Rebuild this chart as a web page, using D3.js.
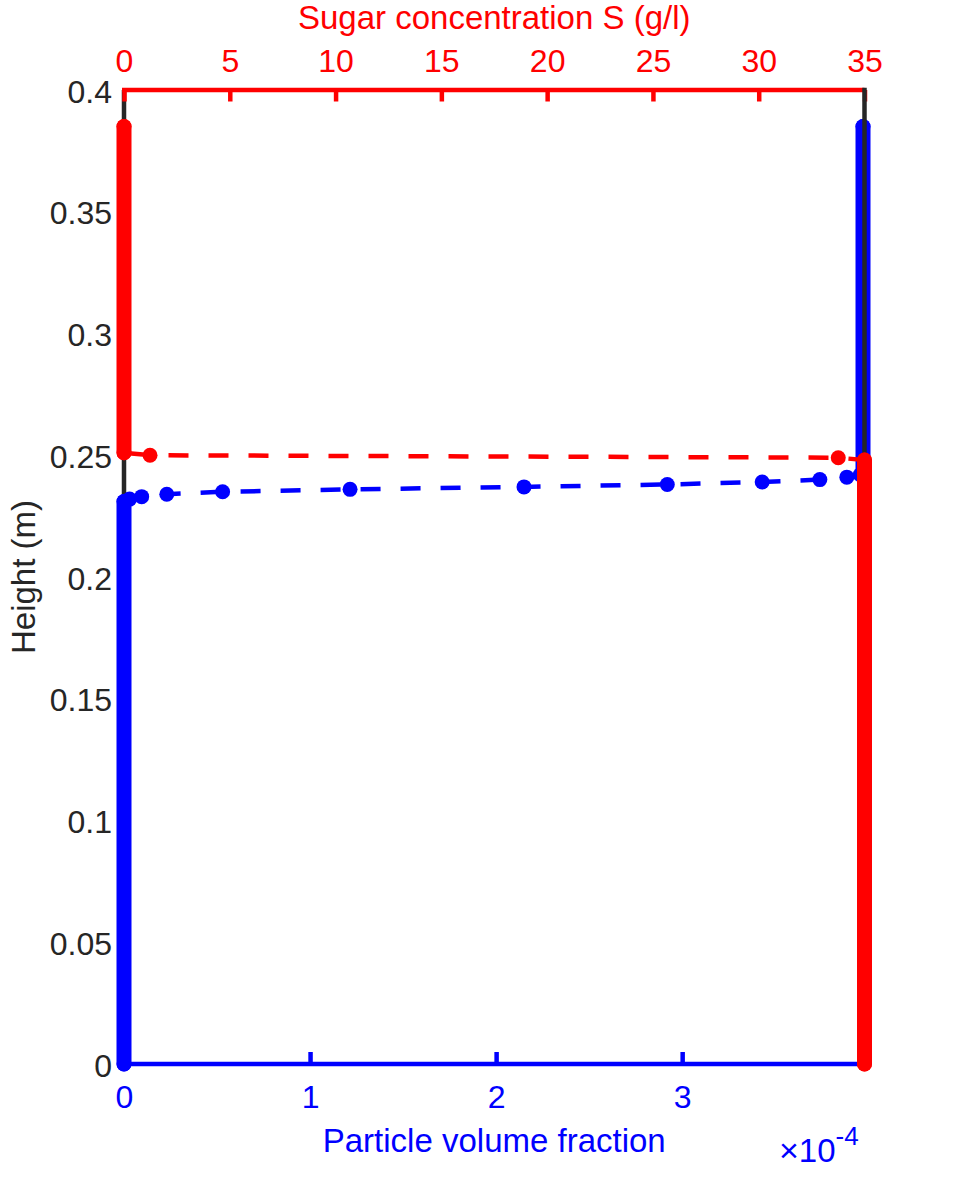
<!DOCTYPE html>
<html>
<head>
<meta charset="utf-8">
<script src="https://cdn.jsdelivr.net/npm/d3@7"></script>
<style>
  html, body { margin: 0; padding: 0; background: #fff; }
  svg { display: block; }
  text { font-family: "Liberation Sans", Arial, Helvetica, sans-serif; }
</style>
</head>
<body>
<div id="chart"></div>
<script>
// ---- data ----
// Blue series: particle volume fraction vs height
const blueHeight = [0, 0.231, 0.232, 0.233, 0.234, 0.235, 0.236, 0.237, 0.238, 0.239, 0.240, 0.241, 0.242, 0.243, 0.385];
const bluePhi    = [0, 0, 0.03e-4, 0.095e-4, 0.23e-4, 0.53e-4, 1.215e-4, 2.15e-4, 2.92e-4, 3.43e-4, 3.74e-4, 3.885e-4, 3.957e-4, 3.972e-4, 3.972e-4];
// Red series: sugar concentration vs height
const redHeight = [0, 0.248, 0.249, 0.250, 0.251, 0.385];
const redSugar  = [35, 35, 33.76, 1.23, 0, 0];
// tick labels
const heightTicks = [0, 0.05, 0.1, 0.15, 0.2, 0.25, 0.3, 0.35, 0.4];
const phiTicks = [0, 1e-4, 2e-4, 3e-4];
const sugarTicks = [0, 5, 10, 15, 20, 25, 30, 35];

const W = 956, H = 1197;
const pLeft = 124, pRight = 864.5, pTop = 90, pBottom = 1064;
const RED = "#ff0000", BLUE = "#0000ff", DARK = "#262626";
const FS = 32;

const svg = d3.select("#chart").append("svg").attr("width", W).attr("height", H);

const y = d3.scaleLinear().domain([0, 0.4]).range([pBottom, pTop]);
const xB = d3.scaleLinear().domain([0, 3.98e-4]).range([pLeft, pRight]);
const xS = d3.scaleLinear().domain([0, 35]).range([pLeft, pRight]);

const blue = blueHeight.map((h, i) => ({ x: bluePhi[i], h }));
const red = redHeight.map((h, i) => ({ x: redSugar[i], h }));

// ---- axes 1: left (black) + bottom (blue) ----
const gL = svg.append("g").attr("transform", `translate(${pLeft},0)`)
  .call(d3.axisLeft(y).tickValues(heightTicks).tickSize(0).tickPadding(12)
    .tickFormat(d => String(+d.toFixed(2))));
gL.select(".domain").remove();
gL.selectAll("text").attr("font-size", FS).attr("fill", DARK).attr("dy", "0.38em")
  .style("font-family", "Liberation Sans, Arial, sans-serif");

svg.append("line").attr("x1", pLeft).attr("x2", pLeft).attr("y1", pTop).attr("y2", pBottom)
  .attr("stroke", DARK).attr("stroke-width", 4.5);

const gB = svg.append("g").attr("transform", `translate(0,${pBottom})`)
  .call(d3.axisBottom(xB).tickValues(phiTicks).tickSizeInner(-12).tickSizeOuter(0).tickPadding(21)
    .tickFormat(d => String(Math.round(d * 1e4))));
gB.select(".domain").remove();
gB.selectAll(".tick line").attr("stroke", BLUE).attr("stroke-width", 4.5);
gB.selectAll("text").attr("font-size", FS).attr("fill", BLUE)
  .style("font-family", "Liberation Sans, Arial, sans-serif");
svg.append("line").attr("x1", pLeft - 2).attr("x2", pRight).attr("y1", pBottom).attr("y2", pBottom)
  .attr("stroke", BLUE).attr("stroke-width", 4.5);

// ---- series drawing ----
function drawSeries(data, xs, color) {
  const g = svg.append("g");
  const line = d3.line().x(d => xs(d.x)).y(d => y(d.h));
  g.append("path").datum(data).attr("d", line)
    .attr("fill", "none").attr("stroke", color).attr("stroke-width", 4.5)
    .attr("stroke-dasharray", "20,20");
  // plateaus of constant value: dense markers form a thick solid band
  for (let i = 1; i < data.length; i++) {
    if (data[i].x === data[i - 1].x) {
      g.append("line")
        .attr("x1", xs(data[i - 1].x)).attr("x2", xs(data[i].x))
        .attr("y1", y(data[i - 1].h)).attr("y2", y(data[i].h))
        .attr("stroke", color).attr("stroke-width", 15).attr("stroke-linecap", "round");
    }
  }
  g.selectAll("circle").data(data).join("circle")
    .attr("cx", d => xs(d.x)).attr("cy", d => y(d.h)).attr("r", 7.5).attr("fill", color);
}
drawSeries(blue, xB, BLUE);

// ---- axes 2: top (red) + right (black) ----
const gT = svg.append("g").attr("transform", `translate(0,${pTop})`)
  .call(d3.axisTop(xS).tickValues(sugarTicks).tickSizeInner(-11.5).tickSizeOuter(0).tickPadding(18));
gT.select(".domain").remove();
gT.selectAll(".tick line").attr("stroke", RED).attr("stroke-width", 4.5);
gT.selectAll("text").attr("font-size", FS).attr("fill", RED)
  .style("font-family", "Liberation Sans, Arial, sans-serif");
svg.append("line").attr("x1", pLeft - 2).attr("x2", pRight).attr("y1", pTop).attr("y2", pTop)
  .attr("stroke", RED).attr("stroke-width", 4.5);
svg.append("line").attr("x1", pRight).attr("x2", pRight).attr("y1", pTop - 2.2).attr("y2", pBottom)
  .attr("stroke", DARK).attr("stroke-width", 4.5);

// ---- red data ----
drawSeries(red, xS, RED);

// ---- axis titles ----
svg.append("text").attr("x", (pLeft + pRight) / 2).attr("y", 29)
  .attr("text-anchor", "middle").attr("font-size", 33).attr("fill", RED)
  .text("Sugar concentration S (g/l)");

svg.append("text").attr("x", (pLeft + pRight) / 2).attr("y", 1152)
  .attr("text-anchor", "middle").attr("font-size", 33).attr("fill", BLUE)
  .text("Particle volume fraction");

svg.append("text").attr("transform", `translate(35,${(pTop + pBottom) / 2}) rotate(-90)`)
  .attr("text-anchor", "middle").attr("font-size", 33).attr("fill", DARK)
  .text("Height (m)");

const exp = svg.append("text").attr("x", 779).attr("y", 1162).attr("fill", BLUE).attr("font-size", 33);
exp.append("tspan").attr("font-size", 34).text("\u00d7");
exp.append("tspan").text("10");
exp.append("tspan").attr("font-size", 26).attr("dy", -17).text("-4");
</script>
</body>
</html>
